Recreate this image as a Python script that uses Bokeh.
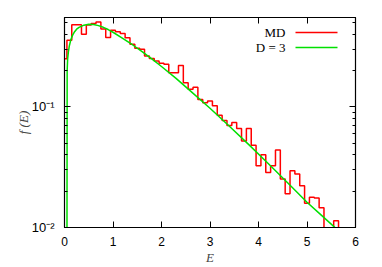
import numpy as np
from bokeh.plotting import figure
from bokeh.models import Range1d, FixedTicker, LogAxis, LinearAxis, Label, BoxAnnotation
from bokeh.embed import file_html
from bokeh.resources import INLINE

# MD histogram (bin centres, values)
E_md = [0.0, 0.1, 0.2, 0.3, 0.4, 0.5, 0.6, 0.7, 0.8, 0.9, 1.0, 1.1, 1.2, 1.3, 1.4,
        1.5, 1.6, 1.7, 1.8, 1.9, 2.0, 2.1, 2.2, 2.3, 2.4, 2.5, 2.6, 2.7, 2.8, 2.9,
        3.0, 3.1, 3.2, 3.3, 3.4, 3.5, 3.6, 3.7, 3.8, 3.9, 4.0, 4.1, 4.2, 4.3, 4.4,
        4.5, 4.6, 4.7, 4.8, 4.9, 5.0, 5.1, 5.2, 5.3, 5.4, 5.5, 5.6, 5.7]
f_md = [0.25, 0.357, 0.48, 0.48, 0.40, 0.476, 0.49, 0.505, 0.441, 0.375, 0.432,
        0.419, 0.405, 0.374, 0.33, 0.306, 0.30, 0.264, 0.252, 0.24, 0.23, 0.225,
        0.192, 0.192, 0.22, 0.158, 0.14, 0.145, 0.115, 0.108, 0.112, 0.102, 0.085,
        0.077, 0.070, 0.074, 0.066, 0.052, 0.066, 0.048, 0.0325, 0.040, 0.0286,
        0.0325, 0.0438, 0.0252, 0.019, 0.0296, 0.0278, 0.0222, 0.0159, 0.0178,
        0.0176, 0.0146, 0.001, 0.001, 0.0114, 0.001]

# D = 3 curve (read points)
E_th = [0.05, 0.055, 0.065, 0.08, 0.1, 0.13, 0.17, 0.2, 0.25, 0.3, 0.4, 0.5, 0.6,
        0.7, 0.8, 0.9, 1.0, 1.2, 1.4, 1.6, 1.8, 2.0, 2.3, 2.6, 3.0, 3.4, 3.8, 4.2,
        4.6, 5.0, 5.3, 5.6]
f_th = [0.004, 0.2, 0.25, 0.285, 0.32, 0.36, 0.395, 0.415, 0.44, 0.455, 0.475,
        0.483, 0.481, 0.471, 0.456, 0.437, 0.415, 0.37, 0.327, 0.287, 0.25, 0.216,
        0.172, 0.135, 0.0973, 0.0691, 0.0486, 0.0339, 0.0235, 0.0162, 0.0126, 0.0098]

x_ticks = [0, 1, 2, 3, 4, 5, 6]
y_ticks = [0.01, 0.1]
y_tick_labels = {0.01: "10⁻²", 0.1: "10⁻¹"}
y_minor = [0.02, 0.03, 0.04, 0.05, 0.06, 0.07, 0.08, 0.09, 0.2, 0.3, 0.4, 0.5]

RED = "#ff0000"
GREEN = "#00e000"
TICK_FONT = "Liberation Sans"
SERIF = "Liberation Serif"

p = figure(width=382, height=267, x_range=Range1d(0, 6), y_range=Range1d(0.01, 0.55),
           y_axis_type="log", output_backend="svg", toolbar_location=None,
           min_border_left=64, min_border_right=27, min_border_top=17, min_border_bottom=40)
p.xgrid.visible = False
p.ygrid.visible = False
p.outline_line_color = "black"
p.outline_line_width = 1.2
p.background_fill_color = "white"
p.border_fill_color = "white"

# step path for histogram
w = E_md[1] - E_md[0]
xs, ys = [], []
for e, f in zip(E_md, f_md):
    xs += [e - w / 2, e + w / 2]
    ys += [f, f]
p.line(xs, ys, line_color=RED, line_width=1.5)
p.line(E_th, f_th, line_color=GREEN, line_width=1.5)

def style_x(ax, labels=True):
    ax.ticker = FixedTicker(ticks=x_ticks)
    ax.major_tick_in = 6
    ax.major_tick_out = 0
    ax.minor_tick_line_color = None
    ax.axis_line_color = "black"
    ax.major_tick_line_color = "black"
    if labels:
        ax.major_label_text_font = TICK_FONT
        ax.major_label_text_font_size = "12px"
        ax.major_label_text_color = "black"
        ax.major_label_standoff = 9
    else:
        ax.major_label_overrides = {t: "" for t in x_ticks}
        ax.major_label_standoff = 0

def style_y(ax, labels=True):
    ax.ticker = FixedTicker(ticks=y_ticks, minor_ticks=y_minor)
    ax.major_tick_in = 6
    ax.major_tick_out = 0
    ax.minor_tick_in = 3
    ax.minor_tick_out = 0
    ax.axis_line_color = "black"
    ax.major_tick_line_color = "black"
    ax.minor_tick_line_color = "black"
    if labels:
        ax.major_label_overrides = y_tick_labels
        ax.major_label_text_font = TICK_FONT
        ax.major_label_text_font_size = "13px"
        ax.major_label_text_color = "black"
        ax.major_label_standoff = 10
    else:
        ax.major_label_overrides = {t: "" for t in y_ticks}
        ax.major_label_standoff = 0

style_x(p.xaxis[0])
p.xaxis[0].axis_label = "E"
p.xaxis[0].axis_label_text_font = SERIF
p.xaxis[0].axis_label_text_font_style = "italic"
p.xaxis[0].axis_label_text_font_size = "13px"
p.xaxis[0].axis_label_standoff = 1

style_y(p.yaxis[0])
p.yaxis[0].axis_label = "f (E)"
p.yaxis[0].axis_label_text_font = SERIF
p.yaxis[0].axis_label_text_font_style = "italic"
p.yaxis[0].axis_label_text_font_size = "13px"
p.yaxis[0].axis_label_standoff = -2

top = LinearAxis()
style_x(top, labels=False)
p.add_layout(top, "above")
right = LogAxis()
style_y(right, labels=False)
p.add_layout(right, "right")

# legend (label left, sample line right); screen units relative to the frame
for text, yy, col in [("MD", 195, RED), ("D = 3", 180, GREEN)]:
    p.add_layout(Label(x=221, y=yy, x_units="screen", y_units="screen", text=text,
                       text_align="right", text_baseline="middle", text_font=SERIF,
                       text_font_size="13px", text_color="black"))
    p.add_layout(BoxAnnotation(left=231, right=273, bottom=yy - 0.75, top=yy + 0.75,
                               left_units="screen", right_units="screen",
                               bottom_units="screen", top_units="screen",
                               fill_color=col, fill_alpha=1, line_color=None))

open("out.html", "w").write(file_html(p, INLINE))
